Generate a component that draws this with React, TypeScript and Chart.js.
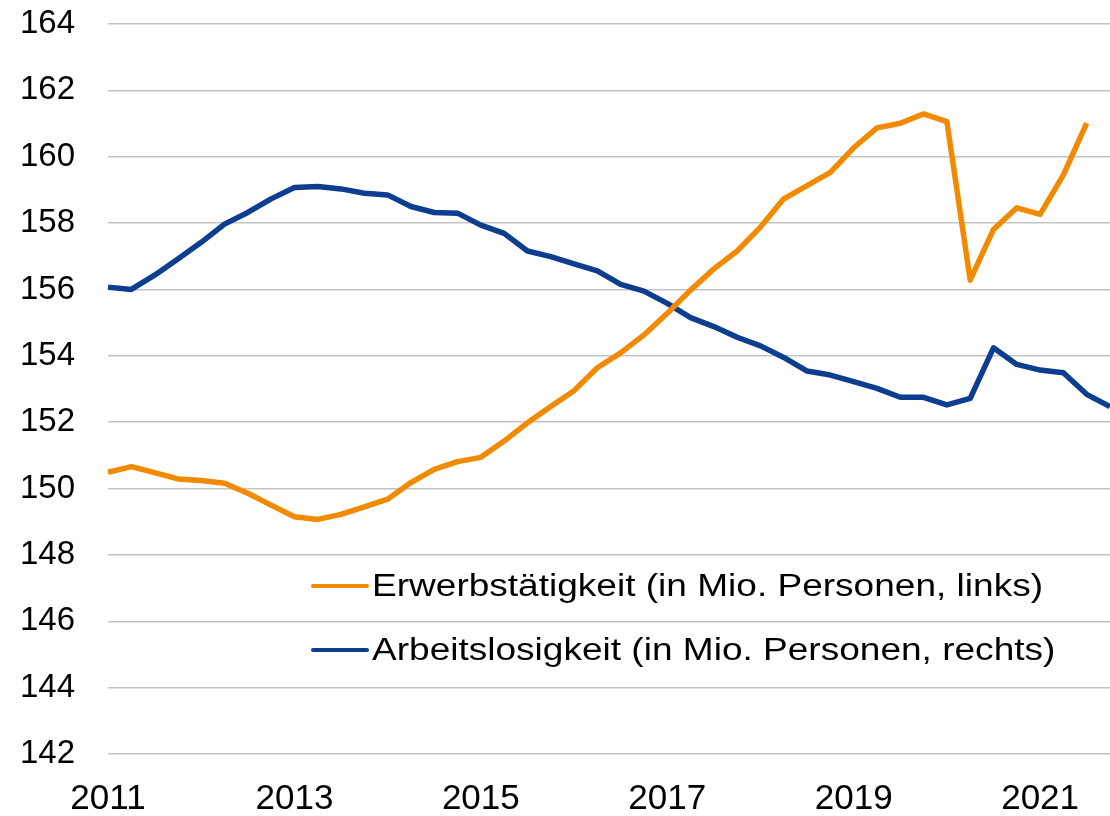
import React, { useEffect, useRef } from "react";
import { Chart, registerables } from "chart.js";

Chart.register(...registerables);

const years = ["2011", "2012", "2013", "2014", "2015", "2016", "2017", "2018", "2019", "2020", "2021"];
const quarters = years.flatMap((y) => ["Q1", "Q2", "Q3", "Q4"].map((q) => `${y} ${q}`));

// Erwerbstätigkeit (in Mio. Personen, links) – 2011 Q1 … 2021 Q3
const erwerbstaetigkeit = [
  150.49, 150.66, 150.48, 150.29, 150.24, 150.16, 149.86, 149.5,
  149.15, 149.07, 149.22, 149.45, 149.68, 150.18, 150.58, 150.81,
  150.94, 151.43, 151.98, 152.47, 152.95, 153.64, 154.09, 154.63,
  155.28, 155.98, 156.62, 157.16, 157.88, 158.73, 159.13, 159.53,
  160.27, 160.87, 161.01, 161.29, 161.06, 156.28, 157.81, 158.46,
  158.26, 159.45, 161.01,
];

// Arbeitslosigkeit (in Mio. Personen, rechts) – 2011 Q1 … 2021 Q4 (read in plot units)
const arbeitslosigkeit = [
  156.07, 156.0, 156.43, 156.92, 157.42, 157.97, 158.32, 158.73,
  159.07, 159.1, 159.03, 158.9, 158.85, 158.5, 158.32, 158.3,
  157.94, 157.69, 157.16, 156.99, 156.77, 156.56, 156.15, 155.95,
  155.58, 155.15, 154.88, 154.56, 154.3, 153.95, 153.54, 153.42,
  153.22, 153.02, 152.75, 152.75, 152.52, 152.72, 154.24, 153.74,
  153.57, 153.49, 152.84, 152.47,
];

const seriesLabels = [
  "Erwerbstätigkeit (in Mio. Personen, links)",
  "Arbeitslosigkeit (in Mio. Personen, rechts)",
];

const yMin = 142;
const yMax = 164;
const yStep = 2;

const ORANGE = "#F28A00";
const BLUE = "#0D3D8E";
const FONT = "'Liberation Sans', Arial, Helvetica, sans-serif";

const inlineLegend = {
  id: "inlineLegend",
  afterDatasetsDraw(chart: any) {
    const { ctx, chartArea } = chart;
    const rows = [chartArea.top + 562, chartArea.top + 626];
    const x0 = chartArea.left + 205;
    ctx.save();
    ctx.font = `31px ${FONT}`;
    const w0 = ctx.measureText(chart.data.datasets[0].label).width;
    const sx = 671 / w0;
    chart.data.datasets.forEach((ds: any, i: number) => {
      const y = rows[i];
      ctx.beginPath();
      ctx.strokeStyle = ds.borderColor;
      ctx.lineWidth = 4;
      ctx.lineCap = "round";
      ctx.moveTo(x0, y);
      ctx.lineTo(x0 + 54, y);
      ctx.stroke();
      ctx.save();
      ctx.translate(x0 + 59, y + 1);
      ctx.scale(sx, 1);
      ctx.fillStyle = "#000";
      ctx.font = `31px ${FONT}`;
      ctx.textBaseline = "middle";
      ctx.textAlign = "left";
      ctx.fillText(ds.label, 0, 0);
      ctx.restore();
    });
    ctx.restore();
  },
};

export default function App() {
  const canvasRef = useRef<HTMLCanvasElement | null>(null);

  useEffect(() => {
    document.body.style.margin = "0";
    const canvas = canvasRef.current;
    if (!canvas) return;
    const chart = new Chart(canvas, {
      type: "line",
      data: {
        labels: quarters,
        datasets: [
          {
            label: seriesLabels[0],
            data: erwerbstaetigkeit,
            borderColor: ORANGE,
            backgroundColor: ORANGE,
            borderWidth: 5.5,
            pointRadius: 0,
            tension: 0,
            borderJoinStyle: "round",
            yAxisID: "y",
          },
          {
            label: seriesLabels[1],
            data: arbeitslosigkeit,
            borderColor: BLUE,
            backgroundColor: BLUE,
            borderWidth: 5.5,
            pointRadius: 0,
            tension: 0,
            borderJoinStyle: "round",
            yAxisID: "y2",
          },
        ],
      },
      options: {
        animation: false,
        responsive: false,
        maintainAspectRatio: false,
        layout: { padding: { top: 24, right: 0, left: 0, bottom: 0 } },
        plugins: {
          legend: { display: false },
          tooltip: { enabled: false },
        },
        scales: {
          x: {
            type: "category",
            offset: false,
            grid: { display: false, drawTicks: false },
            border: { display: false },
            ticks: {
              autoSkip: false,
              maxRotation: 0,
              minRotation: 0,
              padding: 24,
              color: "#000",
              font: { family: FONT, size: 35 },
              callback: (_v: any, idx: number) => (idx % 8 === 0 ? quarters[idx].slice(0, 4) : ""),
            },
            afterFit: (scale: any) => {
              scale.height = 62;
              scale.paddingLeft = 0;
              scale.paddingRight = 0;
            },
          },
          y: {
            position: "left",
            min: yMin,
            max: yMax,
            grid: { color: "#c4c4c4", lineWidth: 1.5, drawTicks: false },
            border: { display: false },
            ticks: {
              stepSize: yStep,
              padding: 33,
              color: "#000",
              font: { family: FONT, size: 33 },
            },
            afterFit: (scale: any) => {
              scale.width = 108;
              scale.paddingTop = 0;
              scale.paddingBottom = 0;
            },
          },
          y2: {
            position: "right",
            display: false,
            min: yMin,
            max: yMax,
          },
        },
      },
      plugins: [inlineLegend],
    });
    return () => chart.destroy();
  }, []);

  return (
    <div style={{ width: 1110, height: 816 }}>
      <canvas ref={canvasRef} width={1110} height={816} style={{ display: "block" }} />
    </div>
  );
}
